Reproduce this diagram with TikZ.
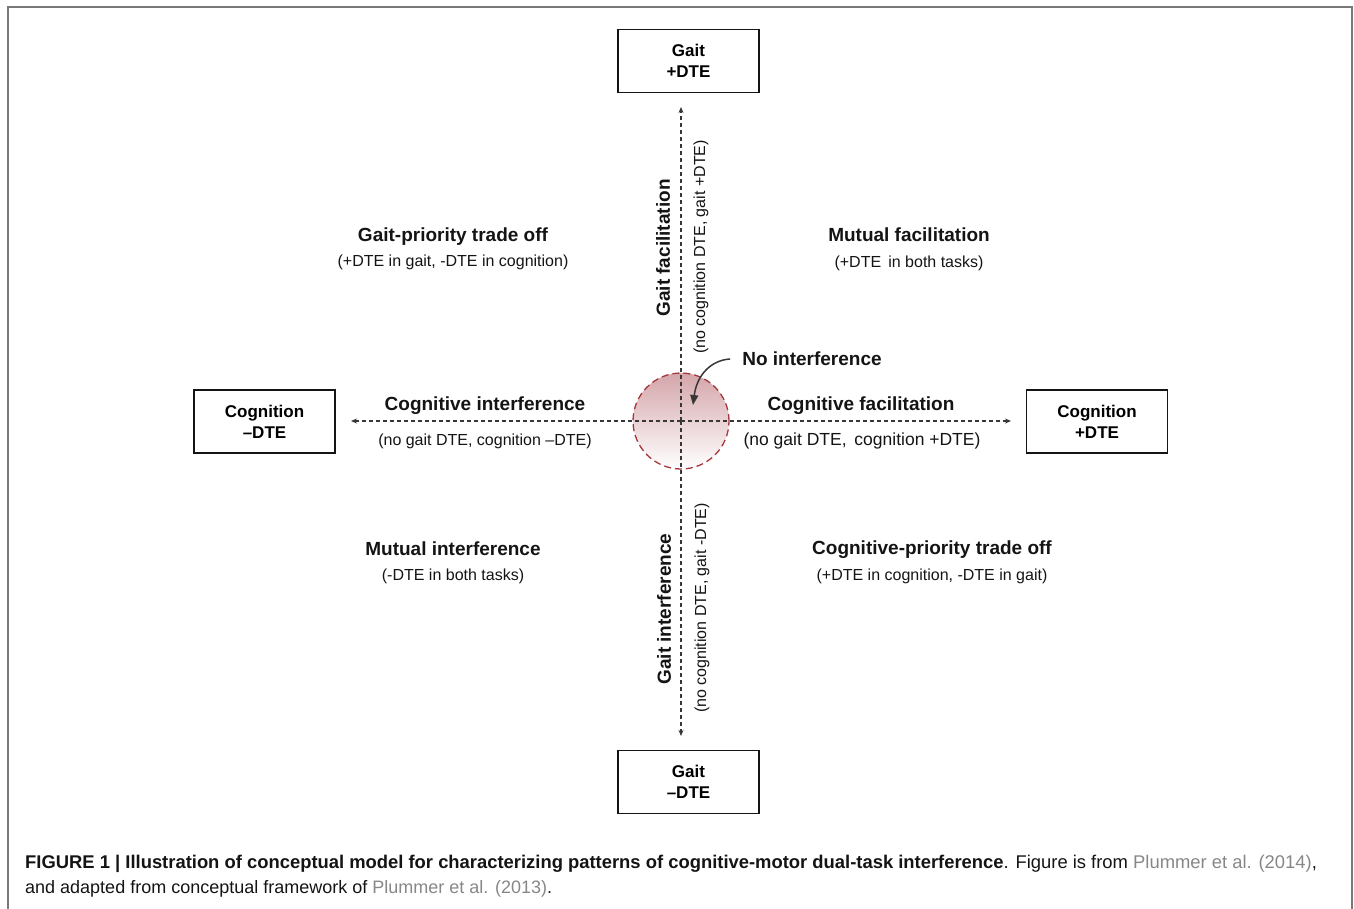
\documentclass[tikz,border=0pt]{standalone}
\usepackage{fontspec}
\setmainfont{Liberation Sans}
\newfontfamily\capfont{Liberation Sans}
\usetikzlibrary{arrows.meta}
\definecolor{framegray}{RGB}{120,120,120}
\definecolor{ringred}{RGB}{165,55,60}
\definecolor{pinktop}{RGB}{212,165,170}
\definecolor{linkgray}{RGB}{135,135,135}
\definecolor{inkblack}{RGB}{20,20,20}
\tikzset{
  dimbox/.style={draw=inkblack, line width=1.2pt, minimum width=141pt, minimum height=63pt, align=center, inner sep=0pt,
     font=\fontsize{17}{21}\selectfont\bfseries},
  head/.style={font=\fontsize{19}{22}\selectfont\bfseries, text=inkblack, inner sep=0pt},
  sub/.style={font=\fontsize{16}{19}\selectfont, text=inkblack, inner sep=0pt},
  dline/.style={draw=inkblack!85, line width=1.1pt, dash pattern=on 4pt off 3pt, -{Stealth[length=6pt,width=5pt]}},
}
\begin{document}
\begin{tikzpicture}[x=1pt,y=-1pt]
\useasboundingbox (0,0) rectangle (1354,909);
% outer frame
\draw[framegray, line width=1.6pt] (8,909) -- (8,7) -- (1352,7) -- (1352,909);

% boxes
\node[dimbox] (gplus)  at (688.5,61)   {Gait\\+DTE};
\node[dimbox] (gminus) at (688.5,782)  {Gait\\--DTE};
\node[dimbox] (cminus) at (264.5,421.5) {Cognition\\--DTE};
\node[dimbox] (cplus)  at (1097,421.5)  {Cognition\\+DTE};

% centre circle
\coordinate (O) at (681,421);
\node[circle, minimum size=96pt, inner sep=0pt, draw=ringred, line width=1.3pt, dash pattern=on 7pt off 4pt,
      top color=pinktop, bottom color=white] (ring) at (O) {};

% arrow end points
\coordinate (tN) at (681,107);
\coordinate (tS) at (681,736);
\coordinate (tW) at (351,421);
\coordinate (tE) at (1011,421);
\draw[dline] (O) -- (tN);
\draw[dline] (O) -- (tS);
\draw[dline] (O) -- (tW);
\draw[dline] (O) -- (tE);

% quadrant labels
\node[head] (gpt) at (453,237) {Gait-priority trade off};
\node[sub]  (gpts) at (453,262) {(+DTE in gait, -DTE in cognition)};
\node[head] (mf) at (909,235) {Mutual facilitation};
\node[sub]  (mfs) at (909,263) {(+DTE\, in both tasks)};
\node[head] (mi) at (453,549) {Mutual interference};
\node[sub]  (mis) at (453,576) {(-DTE in both tasks)};
\node[head] (cpt) at (932,550) {Cognitive-priority trade off};
\node[sub]  (cpts) at (932,576) {(+DTE in cognition, -DTE in gait)};

% axis labels
\node[head] (ci) at (485,406) {Cognitive interference};
\node[sub]  (cis) at (485,441) {(no gait DTE, cognition --DTE)};
\node[head] (cf) at (861,406) {Cognitive facilitation};
\node[sub, font=\fontsize{17.5}{20}\selectfont] (cfs) at (862,441) {(no gait DTE,\, cognition +DTE)};
\node[head, rotate=90] (gf) at (663,248) {Gait facilitation};
\node[sub, rotate=90] (gfs) at (701,247) {(no cognition DTE, gait +DTE)};
\node[head, rotate=90] (gi) at (664,609) {Gait interference};
\node[sub, rotate=90] (gis) at (702,608) {(no cognition DTE, gait -DTE)};

% no interference
\node[head] (ni) at (812,359) {No interference};
\coordinate (niTip) at (693,405);
\draw[inkblack!85, line width=1.5pt, -{Triangle[length=10pt,width=8pt]}]
  ([xshift=-12pt]ni.west) .. controls (712,360) and (697,374) .. (niTip);

% caption
\node[anchor=base west, inner sep=0pt, font=\capfont\fontsize{18.4}{22}\selectfont, text=inkblack] (cap1) at (25,868)
  {\textbf{FIGURE 1 | Illustration of conceptual model for characterizing patterns of cognitive-motor dual-task interference}. Figure is from \textcolor{linkgray}{Plummer et al. (2014)},};
\node[anchor=base west, inner sep=0pt, font=\capfont\fontsize{18}{22}\selectfont, text=inkblack] (cap2) at (25,893)
  {and adapted from conceptual framework of \textcolor{linkgray}{Plummer et al. (2013)}.};
\end{tikzpicture}
\end{document}
